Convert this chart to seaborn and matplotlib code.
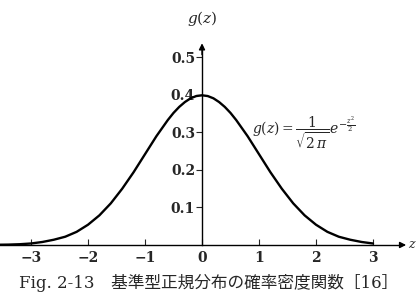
import seaborn as sns
import pandas as pd
import matplotlib.pyplot as plt

# values (standard normal density)
z_vals = [-3.6, -3.4, -3.2, -3.0, -2.8, -2.6, -2.4, -2.2, -2.0, -1.8, -1.6, -1.4, -1.2,
          -1.0, -0.8, -0.6, -0.5, -0.4, -0.3, -0.2, -0.1, 0.0, 0.1, 0.2, 0.3, 0.4, 0.5,
          0.6, 0.8, 1.0, 1.2, 1.4, 1.6, 1.8, 2.0, 2.2, 2.4, 2.6, 2.8, 3.0]
g_vals = [0.0006, 0.001, 0.002, 0.004, 0.008, 0.014, 0.022, 0.035, 0.054, 0.079, 0.111, 0.150, 0.194,
          0.242, 0.290, 0.333, 0.352, 0.368, 0.381, 0.391, 0.397, 0.399, 0.397, 0.391, 0.381, 0.368, 0.352,
          0.333, 0.290, 0.242, 0.194, 0.150, 0.111, 0.079, 0.054, 0.035, 0.022, 0.014, 0.008, 0.004]
x_ticks = [-3, -2, -1, 0, 1, 2, 3]
x_labels = ["\u22123", "\u22122", "\u22121", "0", "1", "2", "3"]
y_ticks = [0.1, 0.2, 0.3, 0.4, 0.5]
y_labels = ["0.1", "0.2", "0.3", "0.4", "0.5"]

df = pd.DataFrame({"z": z_vals, "g": g_vals})

sns.set_style("white")
plt.rcParams['font.family'] = ['DejaVu Serif', 'Noto Sans CJK JP']
plt.rcParams['mathtext.fontset'] = 'dejavuserif'

fig = plt.figure(figsize=(4.17, 2.93), dpi=100)
ax = fig.add_axes([0, 0, 1, 1])
ax.patch.set_alpha(0)

sns.lineplot(x="z", y="g", data=df, color="black", linewidth=1.7, ax=ax)

ax.set_xlim(-3.544, 3.772)
ax.set_ylim(-0.128, 0.653)

# axes through the origin
for s in ["top", "right"]:
    ax.spines[s].set_visible(False)
ax.spines["left"].set_position(("data", 0))
ax.spines["bottom"].set_position(("data", 0))
ax.spines["left"].set_bounds(0, 0.53)
ax.spines["bottom"].set_bounds(-3.55, 3.5)
for s in ["left", "bottom"]:
    ax.spines[s].set_linewidth(1.0)
    ax.spines[s].set_color("black")
ax.annotate("", xy=(3.63, 0), xytext=(3.45, 0),
            arrowprops=dict(arrowstyle="-|>", color="black", lw=1.0, mutation_scale=9))
ax.annotate("", xy=(0, 0.545), xytext=(0, 0.5),
            arrowprops=dict(arrowstyle="-|>", color="black", lw=1.0, mutation_scale=9))

ax.set_xticks(x_ticks)
ax.set_xticklabels(x_labels, fontsize=10, fontweight="bold")
ax.set_yticks(y_ticks)
ax.set_yticklabels(y_labels, fontsize=10, fontweight="bold")
ax.tick_params(axis="x", direction="in", length=4, width=0.8, pad=4, bottom=True)
ax.tick_params(axis="y", direction="out", length=4, width=0.8, pad=1, left=True)
ax.set_xlabel("")
ax.set_ylabel("")

ax.text(0.0, 0.605, r"$g(z)$", ha="center", va="center", fontsize=11)
ax.text(3.69, 0.0, r"$z$", ha="center", va="center", fontsize=9)
ax.text(0.87, 0.30, r"$g(z)=\dfrac{1}{\sqrt{2\,\pi}}e^{-\frac{z^2}{2}}$",
        ha="left", va="center", fontsize=10)

fig.text(0.5, 0.035, "Fig. 2-13\u3000基準型正規分布の確率密度関数［16］",
         ha="center", va="center", fontsize=12,
         family=["DejaVu Serif", "Noto Sans CJK JP"])

fig.savefig("out.png", dpi=100)
